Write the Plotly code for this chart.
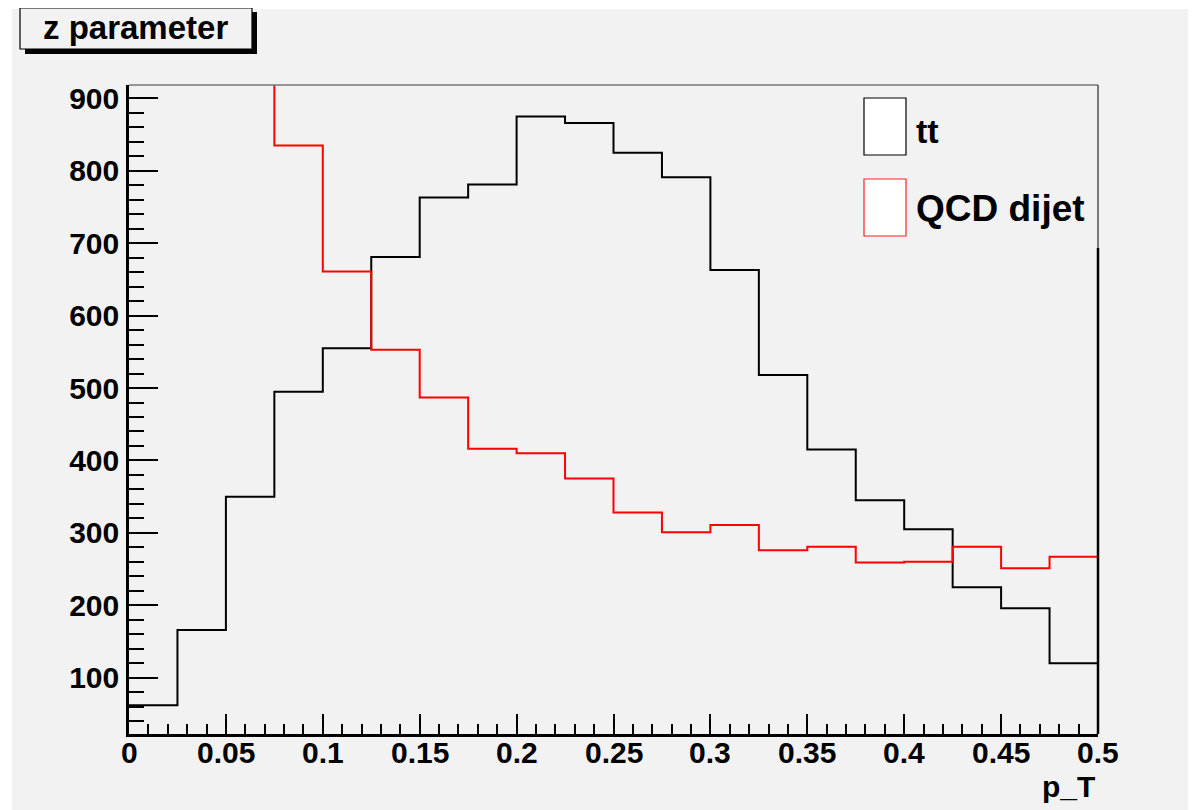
import plotly.graph_objects as go

# ---- data ----
bin_edges = [round(i * 0.025, 3) for i in range(21)]
tt_counts = [62, 166, 350, 495, 555, 681, 763, 781, 875, 866,
             825, 791, 663, 518, 415, 345, 305, 225, 196, 120]
qcd_counts = [1500, 1250, 1000, 835, 661, 553, 487, 416, 410, 375,
              328, 301, 311, 276, 281, 259, 260, 281, 251, 267]
x_tick_vals = [0, 0.05, 0.1, 0.15, 0.2, 0.25, 0.3, 0.35, 0.4, 0.45, 0.5]
x_tick_text = ["0", "0.05", "0.1", "0.15", "0.2", "0.25", "0.3", "0.35", "0.4", "0.45", "0.5"]
y_tick_vals = [100, 200, 300, 400, 500, 600, 700, 800, 900]
y_tick_text = [str(v) for v in y_tick_vals]
series_names = ["tt", "QCD dijet"]
title_text = "z parameter"
x_title = "p_T"

# ---- layout geometry (pixels; page body has an 8px margin) ----
OFF = 8
W, H = 1198 - OFF, 810 - OFF
L, T = 129 - OFF, 85 - OFF
R = W - (1098 - OFF)
B = H - (734 - OFF)
PW, PH = W - L - R, H - T - B
BG = "#f2f2f2"
FONT = "Liberation Sans"


def px(xs):
    # screen x pixel -> paper coordinate
    return (xs - OFF - L) / PW


def py(ys):
    # screen y pixel -> paper coordinate
    return (H - B - (ys - OFF)) / PH


fig = go.Figure()


def step_trace(counts, color):
    xs = list(bin_edges)
    ys = list(counts) + [counts[-1]]
    return go.Scatter(x=xs, y=ys, mode="lines", line=dict(color=color, width=2, shape="hv"),
                      showlegend=False, hoverinfo="skip", cliponaxis=True)


fig.add_trace(step_trace(tt_counts, "black"))
fig.add_trace(step_trace(qcd_counts, "#ff0000"))

shapes = []
# outer gray canvas
shapes.append(dict(type="rect", xref="paper", yref="paper", x0=px(12), x1=px(1188), y0=py(810), y1=py(9),
                   fillcolor=BG, line=dict(width=0), layer="below"))
# frame top (thin gray) and right
shapes.append(dict(type="line", xref="paper", yref="paper", x0=0, x1=1, y0=1, y1=1,
                   line=dict(color="#777777", width=1.5)))
shapes.append(dict(type="line", xref="paper", yref="paper", x0=1, x1=1, y0=0, y1=py(248),
                   line=dict(color="black", width=2.5)))
shapes.append(dict(type="line", xref="paper", yref="paper", x0=1, x1=1, y0=py(248), y1=1,
                   line=dict(color="black", width=1)))
# title box shadow + box
shapes.append(dict(type="rect", xref="paper", yref="paper", x0=px(25), x1=px(257), y0=py(54), y1=py(12),
                   fillcolor="black", line=dict(width=0)))
shapes.append(dict(type="rect", xref="paper", yref="paper", x0=px(20), x1=px(252), y0=py(49), y1=py(8),
                   fillcolor=BG, line=dict(color="black", width=1.2)))
# legend swatches
shapes.append(dict(type="rect", xref="paper", yref="paper", x0=px(864), x1=px(906), y0=py(155), y1=py(98),
                   fillcolor="white", line=dict(color="black", width=1.2)))
shapes.append(dict(type="rect", xref="paper", yref="paper", x0=px(864), x1=px(906), y0=py(236), y1=py(179),
                   fillcolor="white", line=dict(color="#ff2020", width=1.2)))

tick_font = dict(family=FONT, size=30, color="black", weight="bold")

annotations = [
    dict(text=title_text, xref="paper", yref="paper", x=px(135), y=py(28), showarrow=False,
         xanchor="center", yanchor="middle", font=dict(family=FONT, size=33, color="black", weight="bold")),
    dict(text=series_names[0], xref="paper", yref="paper", x=px(914), y=py(131), showarrow=False,
         xanchor="left", yanchor="middle", font=dict(family=FONT, size=34, color="black", weight="bold")),
    dict(text=series_names[1], xref="paper", yref="paper", x=px(914), y=py(208), showarrow=False,
         xanchor="left", yanchor="middle", font=dict(family=FONT, size=37, color="black", weight="bold")),
    dict(text=x_title, xref="paper", yref="paper", x=px(1097), y=py(786), showarrow=False,
         xanchor="right", yanchor="middle", font=dict(family=FONT, size=30, color="black", weight="bold")),
]
# x tick labels placed just under the axis (as in the ROOT original)
for v, t in zip(x_tick_vals, x_tick_text):
    annotations.append(dict(text=t, xref="x", yref="paper", x=v, y=py(752), showarrow=False,
                            xanchor="center", yanchor="middle", font=tick_font))

fig.update_layout(
    width=W, height=H,
    margin=dict(l=L, r=R, t=T, b=B, pad=0),
    paper_bgcolor="white",
    plot_bgcolor=BG,
    shapes=shapes,
    annotations=annotations,
    showlegend=False,
    xaxis=dict(range=[0, 0.5], tickvals=x_tick_vals, ticktext=x_tick_text, showticklabels=False,
               ticks="inside", ticklen=20, tickwidth=2, tickcolor="black",
               minor=dict(ticks="inside", ticklen=10, tickwidth=2, tickcolor="black", dtick=0.01, showgrid=False),
               showgrid=False, zeroline=False, showline=True, linecolor="black", linewidth=2.5),
    yaxis=dict(range=[22.3, 918.4], tickvals=y_tick_vals, ticktext=y_tick_text,
               ticks="inside", ticklen=29, tickwidth=2, tickcolor="black",
               minor=dict(ticks="inside", ticklen=15, tickwidth=2, tickcolor="black", dtick=20, showgrid=False),
               showgrid=False, zeroline=False, showline=True, linecolor="black", linewidth=2.5,
               tickfont=tick_font, ticklabelstandoff=1),
)

fig.write_html("out.html")
